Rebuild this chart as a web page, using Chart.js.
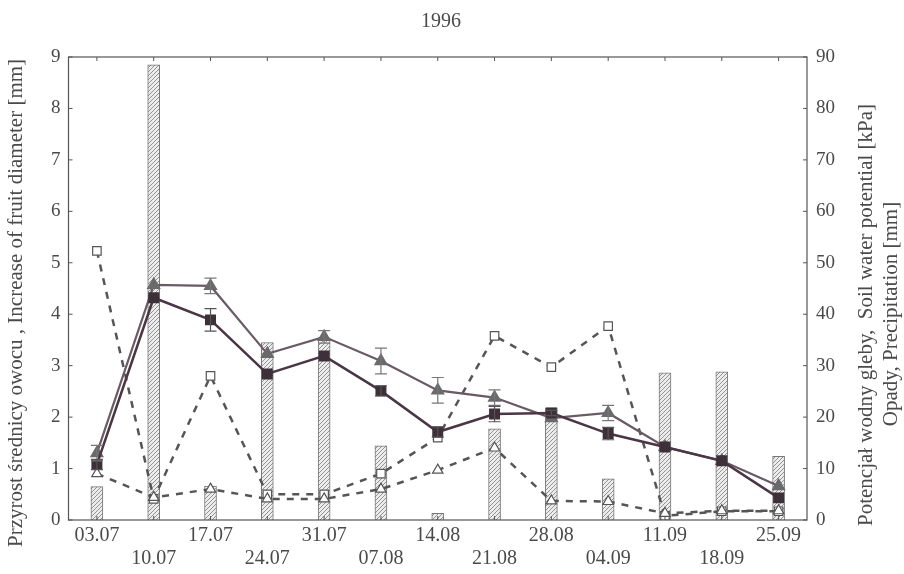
<!DOCTYPE html>
<html>
<head>
<meta charset="utf-8">
<script src="https://cdn.jsdelivr.net/npm/chart.js@4/dist/chart.umd.min.js"></script>
<style>
  body { margin: 0; background: #fff; }
  #wrap { width: 904px; height: 574px; }
</style>
</head>
<body>
<div id="wrap"><canvas id="chart"></canvas></div>
<script>
// daty pomiarow
const dates = ['03.07', '10.07', '17.07', '24.07', '31.07', '07.08', '14.08', '21.08', '28.08', '04.09', '11.09', '18.09', '25.09'];

// przyrost srednicy owocu [mm] - dwie serie
const growthTri = [1.3, 4.57, 4.55, 3.23, 3.56, 3.09, 2.52, 2.38, 1.98, 2.08, 1.42, 1.15, 0.66];
const growthSq = [1.08, 4.32, 3.89, 2.84, 3.19, 2.51, 1.71, 2.06, 2.08, 1.68, 1.42, 1.15, 0.43];
const errTri = [0.15, 0, 0.15, 0, 0.12, 0.25, 0.25, 0.15, 0, 0.15, 0, 0, 0];
const errSq = [0.1, 0, 0.22, 0, 0, 0.1, 0.1, 0.15, 0.05, 0.12, 0, 0, 0];

// potencjal wodny gleby [kPa]
const potentialSq = [52.3, 4.1, 28, 5, 5, 9, 16, 35.8, 29.7, 37.7, 0.8, 1.7, 1.7];
const potentialTri = [9, 4.4, 6, 4.1, 4.1, 6, 9.7, 14, 3.7, 3.6, 1.3, 1.8, 1.8];

// opady [mm]
const precipitation = [6.5, 88.5, 6.6, 34.5, 35.4, 14.4, 1.3, 17.7, 21.8, 8, 28.6, 28.8, 12.4];

// opisy
const chartTitle = '1996';
const leftTitle = 'Przyrost średnicy owocu , Increase of fruit diameter [mm]';
const rightTitles = ['Potencjał wodny gleby,  Soil water potential [kPa]', 'Opady, Precipitation [mm]'];

const serif = "'Liberation Serif', 'DejaVu Serif', serif";
const textColor = '#4a4a4a';

function hatchPattern() {
    const c = document.createElement('canvas');
    c.width = 4;
    c.height = 4;
    const g = c.getContext('2d');
    g.fillStyle = '#ececec';
    g.fillRect(0, 0, 4, 4);
    g.strokeStyle = '#8a8a8a';
    g.lineWidth = 0.9;
    g.beginPath();
    g.moveTo(0, 4);
    g.lineTo(4, 0);
    g.moveTo(-1, 1);
    g.lineTo(1, -1);
    g.moveTo(3, 5);
    g.lineTo(5, 3);
    g.stroke();
    return g.createPattern(c, 'repeat');
}

function rotatedText(ctx, txt, x, y) {
    ctx.save();
    ctx.translate(x, y);
    ctx.rotate(-Math.PI / 2);
    ctx.fillText(txt, 0, 0);
    ctx.restore();
}

// ramka wykresu, kreski podzialki do srodka i opisy osi
const framePlugin = {
    id: 'frame',
    afterDraw(chart) {
        const { ctx, chartArea: a, scales } = chart;
        ctx.save();
        ctx.strokeStyle = '#555';
        ctx.lineWidth = 1.2;
        ctx.strokeRect(a.left, a.top, a.right - a.left, a.bottom - a.top);
        ctx.lineWidth = 1;
        scales.y.ticks.forEach(t => {
            const y = scales.y.getPixelForValue(t.value);
            ctx.beginPath();
            ctx.moveTo(a.left, y);
            ctx.lineTo(a.left + 4, y);
            ctx.stroke();
        });
        scales.y1.ticks.forEach(t => {
            const y = scales.y1.getPixelForValue(t.value);
            ctx.beginPath();
            ctx.moveTo(a.right, y);
            ctx.lineTo(a.right - 4, y);
            ctx.stroke();
        });
        dates.forEach((d, i) => {
            const x = scales.x.getPixelForValue(i);
            ctx.beginPath();
            ctx.moveTo(x, a.bottom);
            ctx.lineTo(x, a.bottom - 4);
            ctx.moveTo(x, a.top);
            ctx.lineTo(x, a.top + 4);
            ctx.stroke();
        });

        ctx.fillStyle = textColor;
        ctx.textAlign = 'center';
        ctx.textBaseline = 'middle';
        ctx.font = '20px ' + serif;
        ctx.fillText(chartTitle, 441, 22);
        ctx.font = '21px ' + serif;
        rotatedText(ctx, leftTitle, 16, 303);
        rotatedText(ctx, rightTitles[0], 866, 315);
        rotatedText(ctx, rightTitles[1], 891, 314);
        ctx.restore();
    }
};

// slupki bledu dla serii przyrostu
const errorBarPlugin = {
    id: 'errorBars',
    afterDatasetsDraw(chart) {
        const { ctx, scales } = chart;
        const sets = [[growthTri, errTri, '#777'], [growthSq, errSq, '#555']];
        ctx.save();
        ctx.lineWidth = 1.2;
        sets.forEach(([vals, errs, col]) => {
            ctx.strokeStyle = col;
            vals.forEach((v, i) => {
                if (!errs[i]) return;
                const x = scales.x.getPixelForValue(i);
                const yTop = scales.y.getPixelForValue(v + errs[i]);
                const yBot = scales.y.getPixelForValue(v - errs[i]);
                ctx.beginPath();
                ctx.moveTo(x, yTop);
                ctx.lineTo(x, yBot);
                ctx.moveTo(x - 6, yTop);
                ctx.lineTo(x + 6, yTop);
                ctx.moveTo(x - 6, yBot);
                ctx.lineTo(x + 6, yBot);
                ctx.stroke();
            });
        });
        ctx.restore();
    }
};

const ctx = document.getElementById('chart').getContext('2d');

new Chart(ctx, {
    data: {
        labels: dates,
        datasets: [
            {
                type: 'bar',
                label: 'Opady',
                data: precipitation,
                yAxisID: 'y1',
                backgroundColor: hatchPattern(),
                borderColor: '#777',
                borderWidth: 1,
                barThickness: 12,
                order: 10
            },
            {
                type: 'line',
                label: 'Potencjał (□)',
                data: potentialSq,
                yAxisID: 'y1',
                borderColor: '#555',
                borderWidth: 2.5,
                borderDash: [7, 7],
                pointStyle: 'rect',
                pointRadius: 6,
                pointBackgroundColor: '#fff',
                pointBorderColor: '#555',
                pointBorderWidth: 1.2,
                tension: 0,
                order: 4
            },
            {
                type: 'line',
                label: 'Potencjał (△)',
                data: potentialTri,
                yAxisID: 'y1',
                borderColor: '#555',
                borderWidth: 2.5,
                borderDash: [7, 7],
                pointStyle: 'triangle',
                pointRadius: 6,
                pointBackgroundColor: '#fff',
                pointBorderColor: '#555',
                pointBorderWidth: 1.2,
                tension: 0,
                order: 3
            },
            {
                type: 'line',
                label: 'Przyrost (▲)',
                data: growthTri,
                yAxisID: 'y',
                borderColor: '#6a5a66',
                borderWidth: 2.2,
                pointStyle: 'triangle',
                pointRadius: 6,
                pointBackgroundColor: '#6a6a6a',
                pointBorderColor: '#6a6a6a',
                tension: 0,
                order: 2
            },
            {
                type: 'line',
                label: 'Przyrost (■)',
                data: growthSq,
                yAxisID: 'y',
                borderColor: '#4a3644',
                borderWidth: 2.5,
                pointStyle: 'rect',
                pointRadius: 6,
                pointBackgroundColor: '#3e3038',
                pointBorderColor: '#3e3038',
                tension: 0,
                order: 1
            }
        ]
    },
    options: {
        responsive: true,
        maintainAspectRatio: false,
        animation: false,
        layout: { padding: { top: 57, right: 60, left: 43, bottom: 0 } },
        plugins: {
            legend: { display: false },
            tooltip: { enabled: false }
        },
        scales: {
            x: {
                offset: true,
                grid: { display: false, drawTicks: false },
                border: { display: false },
                ticks: {
                    color: textColor,
                    font: { family: serif, size: 20, lineHeight: 1.15 },
                    maxRotation: 0,
                    autoSkip: false,
                    padding: 4,
                    callback: function(val, i) {
                        return i % 2 === 0 ? [dates[i], ''] : ['', dates[i]];
                    }
                }
            },
            y: {
                position: 'left',
                min: 0,
                max: 9,
                grid: { display: false, drawTicks: false },
                border: { display: false },
                ticks: {
                    stepSize: 1,
                    color: textColor,
                    font: { family: serif, size: 19 },
                    padding: 8
                }
            },
            y1: {
                position: 'right',
                min: 0,
                max: 90,
                grid: { display: false, drawTicks: false },
                border: { display: false },
                ticks: {
                    stepSize: 10,
                    color: textColor,
                    font: { family: serif, size: 19 },
                    padding: 9
                }
            }
        }
    },
    plugins: [framePlugin, errorBarPlugin]
});
</script>
</body>
</html>
